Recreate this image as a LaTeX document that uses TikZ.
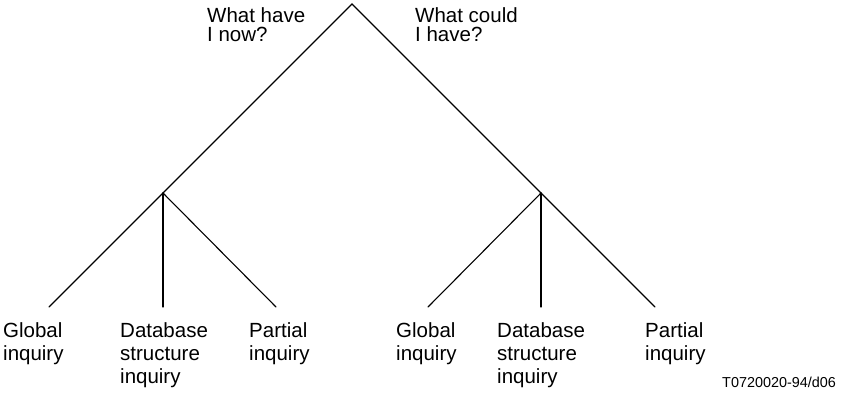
\documentclass[tikz,border=0pt]{standalone}
\usepackage{fontspec}
\setmainfont{Liberation Sans}
\newcommand\stk[2][23pt]{\vtop{\baselineskip=#1\relax\lineskiplimit=-100pt\halign{##\hfil\cr #2\cr}}}
\begin{document}
\begin{tikzpicture}[x=1pt,y=-1pt,
  lbl/.style={anchor=base west,inner sep=0pt,font=\fontsize{20.5}{23}\selectfont},
  small/.style={anchor=base west,inner sep=0pt,font=\fontsize{14.4}{16}\selectfont},
  branch/.style={line width=1.1pt,line cap=round}]
\useasboundingbox (0,0) rectangle (842,399);
\coordinate (apex) at (352,4);
\coordinate (L) at (163,193);
\coordinate (R) at (541,193);
\coordinate (l1) at (49,307);
\coordinate (l2) at (163,307);
\coordinate (l3) at (276,307);
\coordinate (r1) at (428,307);
\coordinate (r2) at (541,307);
\coordinate (r3) at (655,307);
\draw[branch] (L) -- (apex) -- (R);
\draw[branch] (l1) -- (L) -- (l3);
\draw[branch] (L) -- (l2);
\draw[branch] (r1) -- (R) -- (r3);
\draw[branch] (R) -- (r2);
\node[lbl] (q1) at (207,22) {\stk[19.5pt]{What have\cr I now?}};
\node[lbl] (q2) at (415,22) {\stk[19.5pt]{What could\cr I have?}};
\node[lbl] (a1) at (3,337) {\stk{Global\cr inquiry}};
\node[lbl] (a2) at (120,337) {\stk{Database\cr structure\cr inquiry}};
\node[lbl] (a3) at (249,337) {\stk{Partial\cr inquiry}};
\node[lbl] (b1) at (396,337) {\stk{Global\cr inquiry}};
\node[lbl] (b2) at (497,337) {\stk{Database\cr structure\cr inquiry}};
\node[lbl] (b3) at (645,337) {\stk{Partial\cr inquiry}};
\node[small] (id) at (722,387) {T0720020-94/d06};
\end{tikzpicture}
\end{document}
